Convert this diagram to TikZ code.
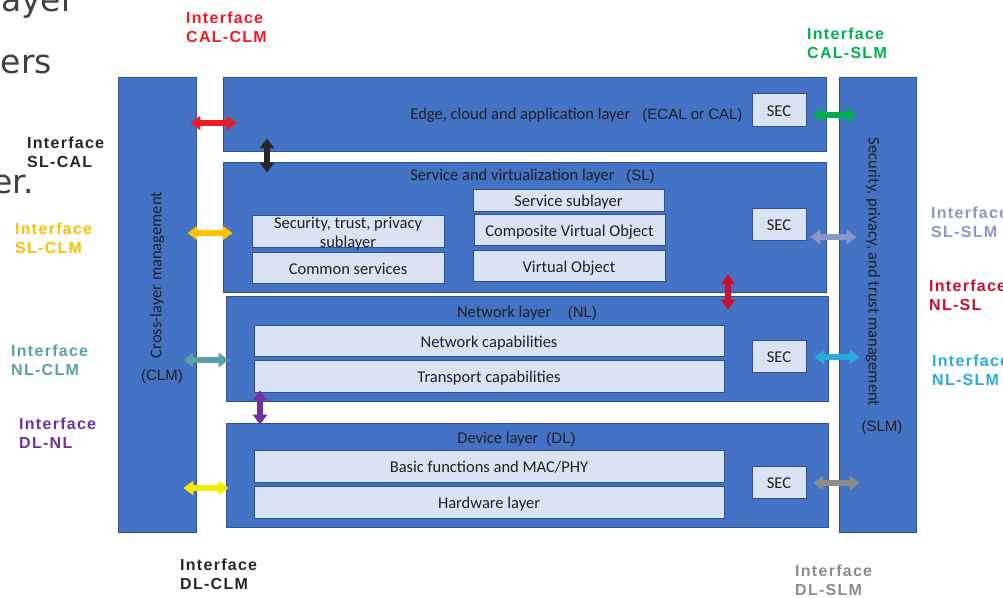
\documentclass[tikz,border=0pt]{standalone}
\usepackage{fontspec}
\setmainfont{Carlito}
\newfontfamily\arialf{Liberation Sans}
\newfontfamily\labf{Liberation Sans}[LetterSpace=8]
\newfontfamily\bgf{DejaVu Sans}
\usetikzlibrary{arrows.meta,calc}
\definecolor{lyr}{HTML}{4472C4}
\definecolor{lyrb}{HTML}{2F528F}
\definecolor{inr}{HTML}{DAE3F3}
\definecolor{txt}{HTML}{202020}
\definecolor{bgtxt}{HTML}{404040}
\definecolor{cRed}{HTML}{ED1C24}
\definecolor{cBlk}{HTML}{262626}
\definecolor{cOrg}{HTML}{FFC000}
\definecolor{cTeal}{HTML}{5BA0A8}
\definecolor{cPur}{HTML}{7030A0}
\definecolor{cGray}{HTML}{8C8C8C}
\definecolor{cGrn}{HTML}{00B050}
\definecolor{cLav}{HTML}{8E95C9}
\definecolor{cDRed}{HTML}{C8102E}
\definecolor{cBlu}{HTML}{29ABE2}
\definecolor{cYel}{HTML}{F5EB00}
\begin{document}
\begin{tikzpicture}[x=1pt,y=-1pt,
  layer/.style={rectangle, draw=lyrb, fill=lyr, line width=0.8pt, inner sep=0pt},
  inbox/.style={rectangle, draw=lyrb, fill=inr, line width=0.8pt, inner sep=0pt, text=txt, font=\fontsize{16.5}{19}\selectfont, text height=13pt, text depth=0pt},
  ttl/.style={text=txt, inner sep=0pt, font=\fontsize{16.5}{19}\selectfont},
  ttlh/.style={ttl, text height=13pt, text depth=0pt},
  par/.style={text=txt, inner sep=0pt, font=\arialf\fontsize{15}{18}\selectfont},
  lab/.style={anchor=west, inner sep=0pt, align=left, font=\labf\bfseries\fontsize{16}{19}\selectfont},
  bgt/.style={anchor=base east, inner sep=0pt, text=bgtxt, font=\bgf\fontsize{33}{40}\selectfont},
  dbl/.style={line width=6pt, {Triangle[width=14pt,length=10pt]}-{Triangle[width=14pt,length=10pt]}}
]
\useasboundingbox (0,0) rectangle (1003,597);
\clip (0,0) rectangle (1003,597);

% background slide text fragments
\node[bgt] (bg1) at (75,12) {layer};
\node[bgt] (bg2) at (52,73) {ers};
\node[bgt] (bg3) at (34,193) {er.};

% layers
\node[layer, minimum width=78pt, minimum height=455pt] (clm) at (157,304.5) {};
\node[layer, minimum width=77pt, minimum height=455pt] (slm) at (877.5,304.5) {};
\node[layer, minimum width=603pt, minimum height=74pt] (cal) at (524.5,114) {};
\node[layer, minimum width=603pt, minimum height=130pt] (sl) at (524.5,227) {};
\node[layer, minimum width=602pt, minimum height=105pt] (nl) at (527,348.5) {};
\node[layer, minimum width=602pt, minimum height=104pt] (dl) at (527,475) {};

% inner boxes
\node[inbox, minimum width=54pt, minimum height=33pt] (seccal) at (779,109.5) {SEC};
\node[inbox, minimum width=54pt, minimum height=32pt] (secsl) at (779,224) {SEC};
\node[inbox, minimum width=54pt, minimum height=32pt] (secnl) at (779,356) {SEC};
\node[inbox, minimum width=54pt, minimum height=32pt] (secdl) at (779,482) {SEC};
\node[inbox, minimum width=192pt, minimum height=32pt] (stp) at (348,231) {};
\node[ttl, align=center] (stpt) at (348,233.5) {Security, trust, privacy\\sublayer};
\node[inbox, minimum width=192pt, minimum height=31pt] (cs) at (348,267.5) {Common services};
\node[inbox, minimum width=191pt, minimum height=22pt] (ssub) at (568.5,200) {Service sublayer};
\node[inbox, minimum width=191pt, minimum height=31pt] (cvo) at (569.5,229.5) {Composite Virtual Object};
\node[inbox, minimum width=192pt, minimum height=31pt] (vo) at (569,265.5) {Virtual Object};
\node[inbox, minimum width=470pt, minimum height=31pt] (netcap) at (489,340.5) {Network capabilities};
\node[inbox, minimum width=470pt, minimum height=32pt] (trcap) at (489,376) {Transport capabilities};
\node[inbox, minimum width=470pt, minimum height=32pt] (basic) at (489,466) {Basic functions and MAC/PHY};
\node[inbox, minimum width=470pt, minimum height=32pt] (hw) at (489,502) {Hardware layer};

% titles
\node[ttlh] (calt) at (576.5,113) {Edge, cloud and application layer\hspace{12pt}{\arialf\fontsize{15}{18}\selectfont(ECAL or CAL)}};
\node[ttlh] (slt) at (532.5,174) {Service and virtualization layer\hspace{11.7pt}{\arialf\fontsize{15}{18}\selectfont(SL)}};
\node[ttlh] (nlt) at (527,311) {Network layer\hspace{16.5pt}{\arialf\fontsize{15}{18}\selectfont(NL)}};
\node[ttlh] (dlt) at (516.5,437) {Device layer\hspace{8pt}{\arialf\fontsize{15}{18}\selectfont(DL)}};
\node[ttl, rotate=90] (clmt) at (157,275) {Cross-layer management};
\node[par] (clmp) at (162,377) {(CLM)};
\node[ttl, rotate=-90] (slmt) at (873,272) {Security, privacy, and trust management};
\node[par] (slmp) at (882,428) {(SLM)};

% interface arrows
\draw[dbl, cRed]  ($(clm.east|-0,123)+(-6,0)$)  -- ($(cal.west|-0,123)+(14,0)$);
\draw[dbl, cOrg]  ($(clm.east|-0,233)+(-9,0)$)  -- ($(sl.west|-0,233)+(10,0)$);
\draw[dbl, cTeal] ($(clm.east|-0,360)+(-13,0)$) -- ($(nl.west|-0,360)+(3,0)$);
\draw[dbl, cYel]  ($(clm.east|-0,488)+(-13,0)$) -- ($(dl.west|-0,488)+(3,0)$);
\draw[dbl, cGrn]  ($(seccal.east|-0,115)+(6,0)$) -- ($(slm.west|-0,115)+(18,0)$);
\draw[dbl, cLav]  ($(secsl.east|-0,237)+(4,0)$)  -- ($(slm.west|-0,237)+(18,0)$);
\draw[dbl, cBlu]  ($(secnl.east|-0,357)+(8,0)$)  -- ($(slm.west|-0,357)+(21,0)$);
\draw[dbl, cGray] ($(secdl.east|-0,483)+(7,0)$)  -- ($(slm.west|-0,483)+(21,0)$);
\draw[dbl, cBlk]  ($(cal.south-|267,0)+(0,-13)$) -- ($(sl.north-|267,0)+(0,11)$);
\draw[dbl, cDRed] ($(sl.south-|728,0)+(0,-18)$)  -- ($(nl.north-|728,0)+(0,14)$);
\draw[dbl, cPur]  ($(nl.south-|260,0)+(0,-11)$)  -- ($(dl.north-|260,0)+(0,2)$);

% interface labels
\node[lab, text=cRed]  (lab1)  at (186,27.5)  {Interface\\CAL-CLM};
\node[lab, text=cBlk]  (lab2)  at (27,152.5)  {Interface\\SL-CAL};
\node[lab, text=cOrg]  (lab3)  at (15,238)    {Interface\\SL-CLM};
\node[lab, text=cTeal] (lab4)  at (11,360.5)  {Interface\\NL-CLM};
\node[lab, text=cPur]  (lab5)  at (19,433)    {Interface\\DL-NL};
\node[lab, text=cBlk]  (lab6)  at (180,574)   {Interface\\DL-CLM};
\node[lab, text=cGray] (lab7)  at (795,580)   {Interface\\DL-SLM};
\node[lab, text=cGrn]  (lab8)  at (807,43.5)  {Interface\\CAL-SLM};
\node[lab, text=cLav]  (lab9)  at (931,222)   {Interface\\SL-SLM};
\node[lab, text=cDRed] (lab10) at (929,295.5) {Interface\\NL-SL};
\node[lab, text=cBlu]  (lab11) at (932,370.5) {Interface\\NL-SLM};
\end{tikzpicture}
\end{document}
